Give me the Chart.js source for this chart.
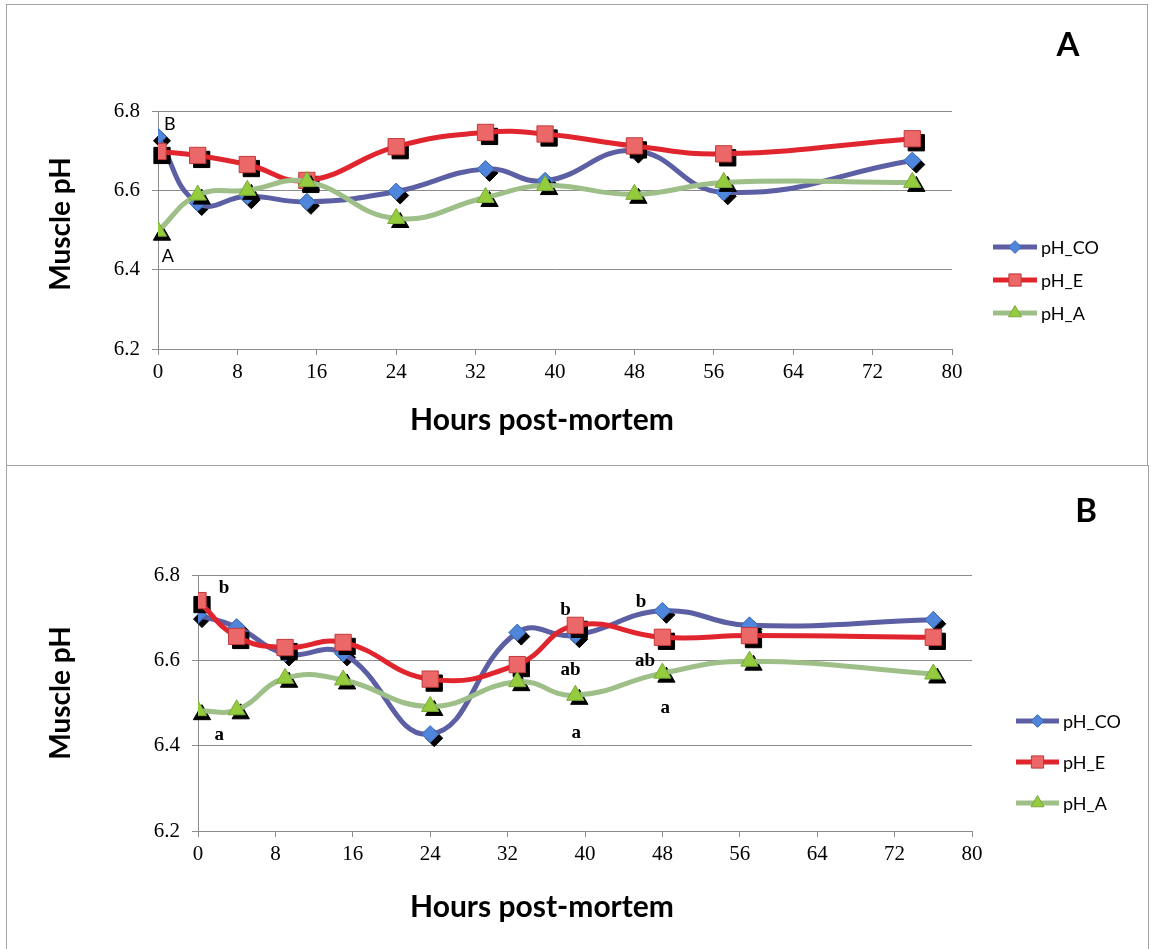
<!DOCTYPE html>
<html>
<head>
<meta charset="utf-8">
<title>Muscle pH post-mortem</title>
<script src="https://cdn.jsdelivr.net/npm/chart.js@4.4.0/dist/chart.umd.min.js"></script>
<style>
  html, body { margin: 0; padding: 0; background: #ffffff; }
  body { width: 1151px; height: 949px; position: relative; overflow: hidden; }
  canvas { position: absolute; left: 0; }
  .frame { position: absolute; border: 1px solid #a3a3a3; box-sizing: border-box; pointer-events: none; }
</style>
</head>
<body>
<canvas id="chartA" width="1151" height="466" style="top:0"></canvas>
<canvas id="chartB" width="1151" height="483" style="top:466px"></canvas>
<div class="frame" style="left:6px;top:4px;width:1142px;height:462px"></div>
<div class="frame" style="left:6px;top:465px;width:1143px;height:500px"></div>
<script>
// Sampling times (hours post-mortem)
const hours = [0, 4, 9, 15, 24, 33, 39, 48, 57, 76];
const seriesNames = ['pH_CO', 'pH_E', 'pH_A'];

// Panel A values
const phCO_A = [6.735, 6.568, 6.585, 6.571, 6.597, 6.654, 6.624, 6.700, 6.595, 6.675];
const phE_A  = [6.698, 6.688, 6.665, 6.625, 6.710, 6.746, 6.742, 6.712, 6.692, 6.730];
const phA_A  = [6.497, 6.588, 6.600, 6.622, 6.529, 6.582, 6.612, 6.590, 6.620, 6.620];

// Panel B values
const phCO_B = [6.706, 6.678, 6.616, 6.616, 6.427, 6.665, 6.659, 6.716, 6.682, 6.695];
const phE_B  = [6.740, 6.656, 6.630, 6.642, 6.556, 6.590, 6.682, 6.654, 6.658, 6.654];
const phA_B  = [6.482, 6.484, 6.558, 6.554, 6.492, 6.550, 6.518, 6.570, 6.598, 6.568];

// Significance letters: [text, hour, pH]
const lettersA = [['B', 1.2, 6.768], ['A', 1.0, 6.434]];
const lettersB = [
  ['b', 2.7, 6.770], ['a', 2.2, 6.425],
  ['b', 38.0, 6.718], ['ab', 38.5, 6.577], ['a', 39.1, 6.430],
  ['b', 45.8, 6.737], ['ab', 46.2, 6.598], ['a', 48.3, 6.488]
];

// Axis settings
const xMin = 0, xMax = 80, xStep = 8;
const yMin = 6.2, yMax = 6.8, yStep = 0.2;

const lineColors   = ['#5c5fa3', '#e1252e', '#9ebf88'];
const markerFill   = ['#4f86db', '#ec6868', '#95cc3e'];
const markerEdge   = ['#3a67b0', '#c23a3a', '#7aa83a'];
const markerStyle  = ['rectRot', 'rect', 'triangle'];
const markerRadius = [8.5, 11.5, 10];

function makeDatasets(seriesValues) {
  return seriesValues.map((vals, i) => ({
    label: seriesNames[i],
    data: hours.map((h, k) => ({ x: h, y: vals[k] })),
    borderColor: lineColors[i],
    borderWidth: 5,
    pointStyle: markerStyle[i],
    pointRadius: markerRadius[i],
    pointHoverRadius: markerRadius[i],
    pointBackgroundColor: markerFill[i],
    pointBorderColor: markerEdge[i],
    pointBorderWidth: 1,
    tension: 0.45,
    fill: false,
    order: 3 - i
  }));
}

// Draws marker shadows, legend, axis titles, panel letter and significance letters
const panelDeco = {
  id: 'panelDeco',
  beforeDatasetDraw(chart, args) {
    const ds = chart.data.datasets[args.index];
    const ctx = chart.ctx;
    ctx.save();
    ctx.fillStyle = '#000';
    ctx.strokeStyle = '#000';
    ctx.lineWidth = 1;
    args.meta.data.forEach(pt => {
      Chart.helpers.drawPoint(ctx, { pointStyle: ds.pointStyle, radius: ds.pointRadius, rotation: 0, borderWidth: 1 }, pt.x + 4, pt.y + 4);
    });
    ctx.restore();
  },
  afterDraw(chart, args, o) {
    const ctx = chart.ctx;
    const sx = chart.scales.x, sy = chart.scales.y;
    ctx.save();

    // legend
    chart.data.datasets.forEach((ds, i) => {
      const y = o.legend.y0 + i * o.legend.dy;
      ctx.strokeStyle = ds.borderColor;
      ctx.lineWidth = 5;
      ctx.beginPath();
      ctx.moveTo(o.legend.x0, y);
      ctx.lineTo(o.legend.x1, y);
      ctx.stroke();
      ctx.fillStyle = ds.pointBackgroundColor;
      ctx.strokeStyle = ds.pointBorderColor;
      ctx.lineWidth = 1;
      Chart.helpers.drawPoint(ctx, { pointStyle: ds.pointStyle, radius: ds.pointRadius * 0.75, rotation: 0, borderWidth: 1 }, (o.legend.x0 + o.legend.x1) / 2, y);
      ctx.fillStyle = '#000';
      ctx.font = '18px Lato';
      ctx.textAlign = 'left';
      ctx.textBaseline = 'middle';
      ctx.fillText(ds.label, o.legend.x1 + 4, y + 1);
    });

    // axis titles
    ctx.fillStyle = '#000';
    ctx.font = 'bold 30px Lato';
    ctx.textAlign = 'center';
    ctx.textBaseline = 'alphabetic';
    ctx.fillText('Hours post-mortem', o.xTitle[0], o.xTitle[1]);
    ctx.font = 'bold 28px Lato';
    ctx.save();
    ctx.translate(o.yTitle[0], o.yTitle[1]);
    ctx.rotate(-Math.PI / 2);
    ctx.fillText('Muscle pH', 0, 0);
    ctx.restore();

    // panel letter
    ctx.font = 'bold 33px Lato';
    ctx.textBaseline = 'middle';
    ctx.fillText(o.panel[0], o.panel[1], o.panel[2]);

    // significance letters
    ctx.font = o.letterFont;
    o.letters.forEach(([t, h, v]) => {
      ctx.fillText(t, sx.getPixelForValue(h), sy.getPixelForValue(v));
    });
    ctx.restore();
  }
};

function makeChart(id, seriesValues, geom, deco) {
  const gridColor = '#8c8c8c';
  return new Chart(document.getElementById(id), {
    type: 'line',
    data: { datasets: makeDatasets(seriesValues) },
    plugins: [panelDeco],
    options: {
      responsive: false,
      animation: false,
      events: [],
      layout: { padding: { left: 0, top: geom.top, right: geom.right, bottom: 0 } },
      plugins: {
        legend: { display: false },
        tooltip: { enabled: false },
        title: { display: false },
        panelDeco: deco
      },
      scales: {
        x: {
          type: 'linear',
          min: xMin, max: xMax,
          afterFit: s => { s.height = geom.xAxisH; },
          ticks: {
            stepSize: xStep,
            color: '#000',
            padding: 5,
            maxRotation: 0,
            font: { family: 'Liberation Serif', size: 21 }
          },
          grid: { drawOnChartArea: false, drawTicks: true, tickLength: 6, color: gridColor, lineWidth: 1 },
          border: { color: gridColor, width: 1 }
        },
        y: {
          type: 'linear',
          min: yMin, max: yMax,
          afterFit: s => { s.width = geom.left; },
          ticks: {
            stepSize: yStep,
            color: '#000',
            padding: 12,
            callback: v => v.toFixed(1),
            font: { family: 'Liberation Serif', size: 21 }
          },
          grid: { color: gridColor, lineWidth: 1, drawTicks: true, tickLength: 6 },
          border: { color: gridColor, width: 1 }
        }
      }
    }
  });
}

makeChart('chartA', [phCO_A, phE_A, phA_A],
  { left: 158, top: 111, right: 1151 - 952, xAxisH: 466 - 349 },
  {
    legend: { x0: 993, x1: 1037, y0: 247, dy: 33 },
    xTitle: [542, 430],
    yTitle: [70, 224],
    panel: ['A', 1068, 45],
    letterFont: '18px Lato',
    letters: lettersA
  });

makeChart('chartB', [phCO_B, phE_B, phA_B],
  { left: 198, top: 109, right: 1151 - 972, xAxisH: 483 - 365 },
  {
    legend: { x0: 1016, x1: 1059, y0: 255, dy: 41 },
    xTitle: [542, 451],
    yTitle: [70, 227],
    panel: ['B', 1086, 45],
    letterFont: 'bold 19px "Liberation Serif"',
    letters: lettersB
  });
</script>
</body>
</html>
